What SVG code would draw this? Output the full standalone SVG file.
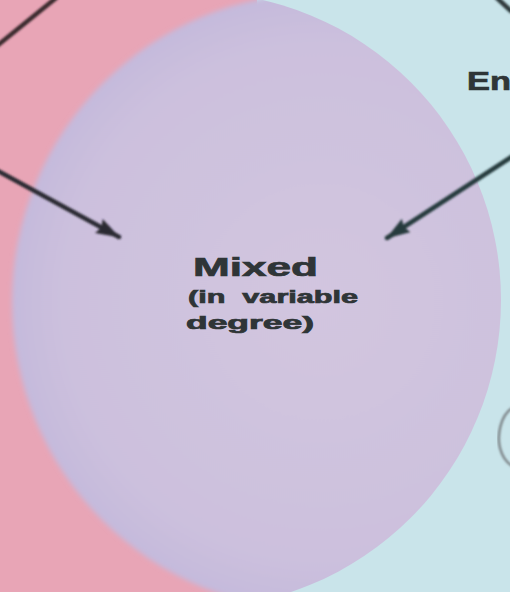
<svg xmlns="http://www.w3.org/2000/svg" width="510" height="592" viewBox="0 0 510 592">
  <style>
    .lbl { font-family: "Liberation Sans", Arial, sans-serif; font-weight: bold; fill: #2f3537; stroke: #2f3537; stroke-width: 0.7; }
    .conn { fill: none; stroke-width: 4.5; stroke-linecap: round; }
  </style>
  <defs>
    <clipPath id="leftCircle"><circle cx="193" cy="300" r="308"/></clipPath>
    <radialGradient id="lensFill" cx="0.5" cy="0.5" r="0.6">
      <stop offset="0" stop-color="#d2c6df"/>
      <stop offset="0.7" stop-color="#ccc0dd"/>
      <stop offset="1" stop-color="#bbb2db"/>
    </radialGradient>
    <filter id="soft" x="-10%" y="-10%" width="120%" height="120%">
      <feGaussianBlur stdDeviation="0.8"/>
    </filter>
    <filter id="edge" x="-10%" y="-10%" width="120%" height="120%">
      <feGaussianBlur stdDeviation="2.5"/>
    </filter>
    <marker id="headL" viewBox="0 0 24 16" refX="23" refY="8" markerWidth="24" markerHeight="16" markerUnits="userSpaceOnUse" orient="auto">
      <path d="M0,0 L24,8 L0,16 L3,8 Z" fill="#2b2a33"/>
    </marker>
    <marker id="headR" viewBox="0 0 24 16" refX="23" refY="8" markerWidth="24" markerHeight="16" markerUnits="userSpaceOnUse" orient="auto">
      <path d="M0,0 L24,8 L0,16 L3,8 Z" fill="#263a3c"/>
    </marker>
  </defs>

  <!-- background regions -->
  <g id="background">
    <rect x="0" y="0" width="258" height="592" fill="#e8a5b6"/>
    <rect x="257" y="0" width="253" height="592" fill="#c9e4ea"/>
  </g>

  <!-- overlap lens node -->
  <g id="mixed">
    <g clip-path="url(#leftCircle)" filter="url(#edge)">
      <circle cx="321" cy="302" r="309" fill="url(#lensFill)"/>
    </g>
    <text class="lbl" x="193" y="276" font-size="25" textLength="125" lengthAdjust="spacingAndGlyphs">Mixed</text>
    <text class="lbl" x="188" y="303" font-size="18" textLength="170" lengthAdjust="spacingAndGlyphs" xml:space="preserve">(in  variable</text>
    <text class="lbl" x="186" y="329" font-size="18" textLength="128" lengthAdjust="spacingAndGlyphs">degree)</text>
  </g>

  <!-- partial node at top right -->
  <g id="en-node">
    <text class="lbl" x="467" y="90" font-size="25" textLength="44" lengthAdjust="spacingAndGlyphs">En</text>
  </g>

  <!-- partial outline at right edge -->
  <g id="right-shape" filter="url(#soft)">
    <path d="M512,408 C500,416 497,436 500,448 C502,456 506,462 512,466" fill="none" stroke="#7d8488" stroke-width="2.5"/>
  </g>

  <!-- connectors -->
  <g id="connectors" filter="url(#soft)">
    <line class="conn" x1="56" y1="-2" x2="-2" y2="45" stroke="#3a2b2e" stroke-width="5"/>
    <line class="conn" x1="-2" y1="171" x2="119" y2="237" stroke="#2b2a33" marker-end="url(#headL)"/>
    <line class="conn" x1="513" y1="156" x2="387" y2="238" stroke="#263a3c" marker-end="url(#headR)"/>
    <line class="conn" x1="497" y1="-2" x2="511" y2="11" stroke="#2e3a3c" stroke-width="5"/>
  </g>
</svg>
